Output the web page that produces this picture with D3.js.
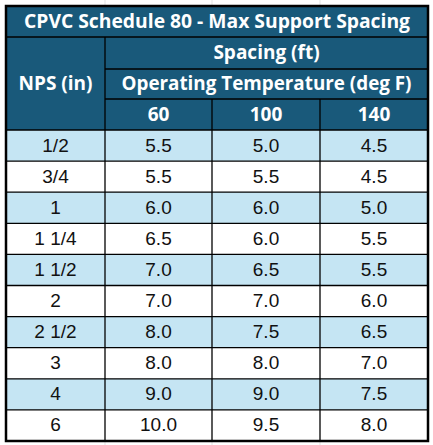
<!DOCTYPE html><html><head><meta charset="utf-8">
<script src="https://cdn.jsdelivr.net/npm/d3@7"></script>
<style>body{margin:0;background:#fff}</style></head><body>
<svg id="c" width="433" height="445"></svg>
<script>
const title = "CPVC Schedule 80 - Max Support Spacing";
const nps = ["1/2","3/4","1","1 1/4","1 1/2","2","2 1/2","3","4","6"];
const temps = ["60","100","140"];
const s60 = ["5.5","5.5","6.0","6.5","7.0","7.0","8.0","8.0","9.0","10.0"];
const s100 = ["5.0","5.5","6.0","6.0","6.5","7.0","7.5","8.0","9.0","9.5"];
const s140 = ["4.5","4.5","5.0","5.5","5.5","6.0","6.5","7.0","7.5","8.0"];
const series = [s60,s100,s140];

const svg = d3.select("#c");
const HDR="#19597a", LIGHT="#c5e5f3";
const L=6,R=428,T=6;
const x = d3.scaleLinear().domain([0,1,2,3,4]).range([L,105,212,320,R]);
const y = d3.scaleLinear().domain([0,1,2,3,4,14]).range([T,37,69,99,130,441]);
const hf = "'Open Sans','Liberation Sans',sans-serif";
const df = "'Liberation Sans',Arial,sans-serif";

const g0 = svg.append("g").attr("stroke","#e3e3e3");
[105,212,320].forEach(v=>g0.append("line").attr("x1",v).attr("x2",v).attr("y1",0).attr("y2",445));
svg.append("rect").attr("x",L).attr("y",T).attr("width",R-L).attr("height",y(4)-T).attr("fill",HDR);
nps.forEach((n,i)=>{
  const r=4+i;
  svg.append("rect").attr("x",L).attr("y",y(r)).attr("width",R-L).attr("height",y(r+1)-y(r))
    .attr("fill", i%2===0?LIGHT:"#fff");
  const row=[n,...series.map(s=>s[i])];
  row.forEach((t,j)=>svg.append("text").attr("x",(x(j)+x(j+1))/2).attr("y",(y(r)+y(r+1))/2+1)
    .attr("text-anchor","middle").attr("dominant-baseline","middle").attr("font-family",df)
    .attr("font-size",19).attr("fill","#111").text(t));
});
const ht=(t,cx,cy,fs)=>svg.append("text").attr("x",cx).attr("y",cy).attr("text-anchor","middle")
  .attr("dominant-baseline","middle").attr("font-family",hf).attr("font-weight","bold")
  .attr("font-size",fs||19).attr("fill","#fff").text(t);
ht(title,(L+R)/2,(y(0)+y(1))/2+1,19).attr("textLength",386).attr("lengthAdjust","spacingAndGlyphs");
ht("Spacing (ft)",(x(1)+R)/2,(y(1)+y(2))/2+1);
ht("Operating Temperature (deg F)",(x(1)+R)/2,(y(2)+y(3))/2+1).attr("textLength",290).attr("lengthAdjust","spacingAndGlyphs");
ht("NPS (in)",(L+x(1))/2,(y(1)+y(4))/2+1);
temps.forEach((t,j)=>ht(t,(x(j+1)+x(j+2))/2,(y(3)+y(4))/2+1));
const g=svg.append("g").attr("stroke","#000").attr("stroke-width",1.3);
const ln=(a,b,c,d)=>g.append("line").attr("x1",a).attr("y1",b).attr("x2",c).attr("y2",d);
ln(L,y(1),R,y(1));
ln(x(1),y(2),R,y(2));
ln(x(1),y(3),R,y(3));
for(let r=4;r<14;r++) ln(L,y(r),R,y(r));
ln(x(1),y(1),x(1),y(14));
ln(x(2),y(3),x(2),y(14));
ln(x(3),y(3),x(3),y(14));
svg.append("rect").attr("x",L).attr("y",T).attr("width",R-L).attr("height",y(14)-T)
  .attr("fill","none").attr("stroke","#000").attr("stroke-width",2.5);
</script></body></html>
